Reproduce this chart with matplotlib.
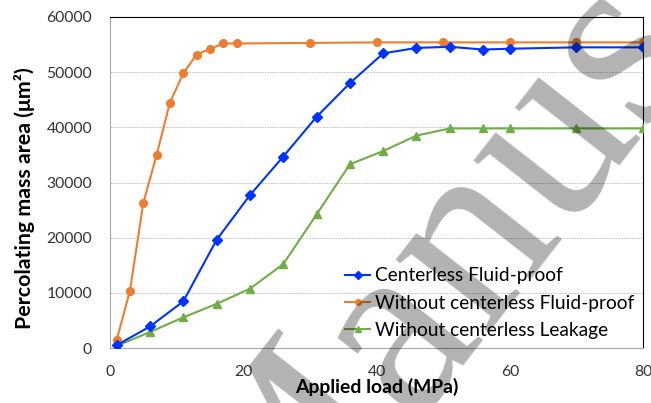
import matplotlib
matplotlib.use("Agg")
import matplotlib.pyplot as plt
from matplotlib import font_manager as fm

# Data
x_orange = [1, 3, 5, 7, 9, 11, 13, 15, 17, 19, 30, 40, 50, 60, 70, 80]
y_orange = [1450, 10400, 26300, 35000, 44500, 49800, 53200, 54200, 55200, 55200,
            55300, 55400, 55400, 55400, 55400, 55400]
x_blue = [1, 6, 11, 16, 21, 26, 31, 36, 41, 46, 51, 56, 60, 70, 80]
y_blue = [500, 3900, 8450, 19600, 27700, 34700, 41900, 48000, 53400, 54400,
          54600, 54100, 54250, 54500, 54500]
x_green = [1, 6, 11, 16, 21, 26, 31, 36, 41, 46, 51, 56, 60, 70, 80]
y_green = [350, 2900, 5550, 8000, 10750, 15200, 24200, 33300, 35700, 38500,
           39800, 39800, 39800, 39800, 39800]
labels = ["Centerless Fluid-proof", "Without centerless Fluid-proof",
          "Without centerless Leakage"]
xticks = [0, 20, 40, 60, 80]
yticks = [0, 10000, 20000, 30000, 40000, 50000, 60000]
watermark = "Manuscript"

plt.rcParams['font.family'] = ['Lato', 'DejaVu Sans']

names = sorted({f.name for f in fm.fontManager.ttflist})
serif_face = 'DejaVu Sans'
for cand in ['Liberation Serif', 'DejaVu Serif', 'Noto Serif', 'Times New Roman']:
    if cand in names:
        serif_face = cand
        break

W, H = 651, 403
PT = 100 / 72.0  # px per point
fig = plt.figure(figsize=(W / 100, H / 100), dpi=100)
ax = fig.add_axes([110 / W, 1 - 348 / H, 533 / W, 331 / H])

ax.plot(x_blue, y_blue, color='#0033FF', marker='D', markersize=5.5, lw=1.5,
        label=labels[0], zorder=4)
ax.plot(x_orange, y_orange, color='#ED7D31', marker='o', markersize=5.5, lw=1.5,
        label=labels[1], zorder=3)
ax.plot(x_green, y_green, color='#70AD47', marker='^', markersize=5.5, lw=1.5,
        label=labels[2], zorder=3)

ax.set_xlim(0, 80)
ax.set_ylim(0, 60000)
ax.set_xticks(xticks)
ax.set_yticks(yticks)
tick_fs = 12.5
ypad, xpad = 12.0, 11.0
ax.tick_params(axis='both', length=0, labelsize=tick_fs, colors='#333333')
ax.tick_params(axis='y', pad=ypad)
ax.tick_params(axis='x', pad=xpad)
ax.yaxis.grid(True, color='#C8C8C8', linestyle=(0, (2, 1)), lw=0.7)
ax.set_axisbelow(True)
for s in ['top', 'right']:
    ax.spines[s].set_color('black')
    ax.spines[s].set_linewidth(0.8)
for s in ['left', 'bottom']:
    ax.spines[s].set_color('#A6A6A6')
    ax.spines[s].set_linewidth(0.8)

xl = fig.text(376.5 / W, 1 - 387 / H, 'Applied load (MPa)', fontsize=13,
              fontweight='bold', ha='center', va='center')
yl = fig.text(25 / W, 1 - 198 / H, 'Percolating mass area (\u03bcm\u00b2)',
              fontsize=13, fontweight='bold', rotation=90, ha='center', va='center')

leg_fs = 14.0
lspace = 0.5


def make_legend(fs, ls, anchor):
    return ax.legend(loc='upper left', bbox_to_anchor=anchor,
                     bbox_transform=fig.transFigure, frameon=False,
                     fontsize=fs, handlelength=25 / (fs * PT),
                     handletextpad=5 / (fs * PT), labelspacing=ls,
                     borderpad=0, borderaxespad=0, markerscale=0.75)


anchor = (343 / W, 1 - 268 / H)
leg = make_legend(leg_fs, lspace, anchor)

for _ in range(3):
    fig.canvas.draw()
    r = fig.canvas.get_renderer()
    e = yl.get_window_extent(r)
    yl.set_fontsize(yl.get_fontsize() * 262 / e.height)
    e = xl.get_window_extent(r)
    xl.set_fontsize(xl.get_fontsize() * 165 / e.width)
    e = ax.get_yticklabels()[-1].get_window_extent(r)
    tick_fs *= 46 / e.width
    ey = ax.get_yticklabels()[3].get_window_extent(r)
    ypad += (ey.x1 - 92) / PT
    ex = ax.get_xticklabels()[1].get_window_extent(r)
    xpad += ((ex.y0 + ex.y1) / 2 - (H - 372.5)) / PT
    ax.tick_params(axis='both', labelsize=tick_fs)
    ax.tick_params(axis='y', pad=ypad)
    ax.tick_params(axis='x', pad=xpad)
    t = leg.get_texts()
    e1 = t[1].get_window_extent(r)
    e0 = t[0].get_window_extent(r)
    e2 = t[2].get_window_extent(r)
    pitch = ((e0.y0 + e0.y1) - (e2.y0 + e2.y1)) / 4
    new_fs = leg_fs * 260 / e1.width
    lspace += (27 - pitch) / (leg_fs * PT)
    dx = (375 - e0.x0) / W
    dy = ((H - 276) - (e0.y0 + e0.y1) / 2) / H
    anchor = (anchor[0] + dx, anchor[1] + dy)
    leg_fs = new_fs
    leg.remove()
    leg = make_legend(leg_fs, lspace, anchor)

fig.text(272 / W, 1 - 600 / H, watermark, fontsize=185,
         fontfamily=serif_face, color='black', alpha=0.3,
         rotation=52, rotation_mode='anchor', ha='left', va='baseline',
         zorder=10)

fig.savefig('out.png', dpi=100)
